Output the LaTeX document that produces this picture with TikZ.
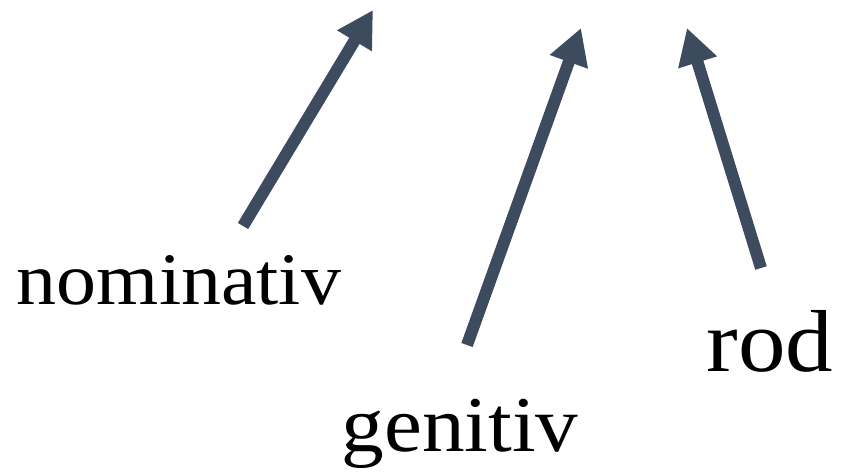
\documentclass[tikz,border=0pt]{standalone}
\usepackage{fontspec}
\setmainfont[FakeStretch=1.08]{Liberation Serif}
\usetikzlibrary{arrows.meta}
\definecolor{arrowcol}{HTML}{3D4B5F}
\begin{document}
\begin{tikzpicture}[x=1pt,y=1pt,
  lbl/.style={inner sep=0pt,anchor=base},
  arr/.style={draw=arrowcol,line width=12pt,-{Triangle[length=36pt,width=38pt]},arrowcol}]
\useasboundingbox (0,0) rectangle (844,476);
\node[lbl,font=\fontsize{74}{80}\selectfont] (nom) at (179,171) {nominativ};
\node[lbl,font=\fontsize{79}{84}\selectfont] (gen) at (460,24) {genitiv};
\node[lbl,font=\fontsize{88}{92}\selectfont] (rod) at (770,104) {rod};
\coordinate (a1s) at (243,250);
\coordinate (a1e) at (373,466);
\coordinate (a2s) at (467,131);
\coordinate (a2e) at (581,448);
\coordinate (a3s) at (761,208);
\coordinate (a3e) at (687,448);
\draw[arr] (a1s) -- (a1e);
\draw[arr] (a2s) -- (a2e);
\draw[arr] (a3s) -- (a3e);
\end{tikzpicture}
\end{document}
